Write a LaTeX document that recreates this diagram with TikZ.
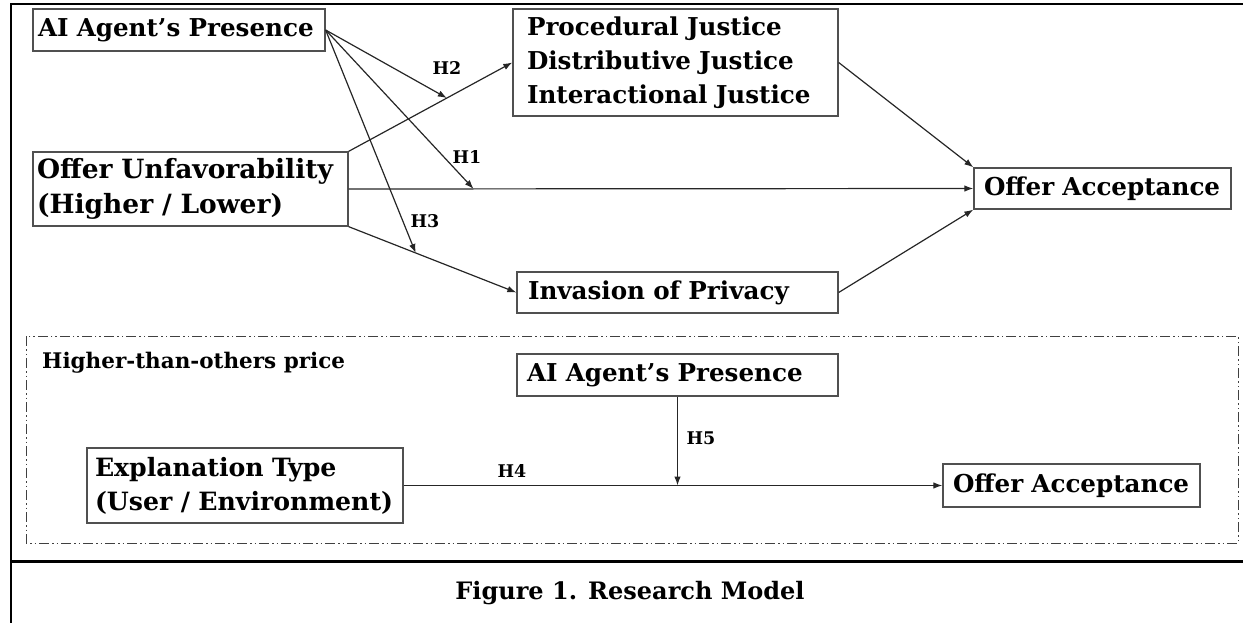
\documentclass[tikz,border=0pt]{standalone}
\usepackage{fontspec}
\setmainfont{DejaVu Serif}
\usetikzlibrary{arrows.meta,calc}

\definecolor{boxgray}{HTML}{505050}
\definecolor{linegray}{HTML}{262626}

\tikzset{
  box/.style={draw=boxgray, line width=1.3pt, align=left, inner ysep=0pt,
    font=\bfseries\fontsize{24.6}{34}\selectfont,
    execute at begin node={\hyphenpenalty=10000\exhyphenpenalty=10000\relax}},
  bigtext/.style={font=\bfseries\fontsize{26.5}{35}\selectfont},
  conn/.style={draw=linegray, line width=1.2pt, -{Latex[length=9pt,width=6.5pt]}},
  hlabel/.style={font=\bfseries\fontsize{17.5}{20}\selectfont, inner sep=0pt},
  frameline/.style={line width=2.8pt, black},
  grouping/.style={draw=black!75, line width=1pt,
    dash pattern=on 10pt off 3pt on 1.5pt off 3pt on 1.5pt off 3pt},
}

\begin{document}
\begin{tikzpicture}[x=1pt, y=-1pt]
\useasboundingbox (0,0) rectangle (1243,623);

% figure frame and caption separator
\coordinate (fTL) at (11,4);
\coordinate (fTR) at (1243,4);
\coordinate (fBL) at (11,623);
\coordinate (dL) at (11,561.5);
\coordinate (dR) at (1243,561.5);
\draw[frameline] (fTR) -- (fTL) -- (fBL);
\draw[frameline] (dL) -- (dR);

% ---------- main model ----------
\node[box, inner xsep=5pt, text width=282pt, minimum height=42pt] (aiTop) at (179,30)
  {AI~Agent’s~Presence};
\node[box, inner xsep=14pt, text width=297pt, minimum height=107pt] (just) at (675.5,62.5)
  {Procedural~Justice\\Distributive~Justice\\Interactional~Justice};
\node[box, bigtext, inner xsep=4pt, text width=307pt, minimum height=74pt] (unfav) at (190.5,189)
  {Offer~Unfavorability\\(Higher~/~Lower)};
\node[box, inner xsep=10pt, text width=237pt, minimum height=41pt] (offerTop) at (1102.5,188.5)
  {Offer~Acceptance};
\node[box, inner xsep=11pt, text width=299pt, minimum height=41pt] (priv) at (677.5,292.5)
  {Invasion~of~Privacy};

\draw[conn] (unfav.north east) -- (just.west);
\draw[conn] (unfav.east) -- (offerTop.west);
\draw[conn] (unfav.south east) -- (priv.west);
\draw[conn] (just.east) -- (offerTop.north west);
\draw[conn] (priv.east) -- (offerTop.south west);

% moderation targets on the paths
\coordinate (m2) at ($(unfav.north east)!0.6!(just.west)$);
\coordinate (m1) at ($(unfav.east)!0.2!(offerTop.west)$);
\coordinate (m3) at ($(unfav.south east)!0.4!(priv.west)$);
\draw[conn] (aiTop.east) -- (m2);
\draw[conn] (aiTop.east) -- (m1);
\draw[conn] (aiTop.east) -- (m3);

\node[hlabel] (h2) at (447,68) {H2};
\node[hlabel] (h1) at (467,157) {H1};
\node[hlabel] (h3) at (425,221) {H3};

% ---------- sub-model for higher-than-others price ----------
\coordinate (gTL) at (26,336);
\coordinate (gBR) at (1238,543);
\draw[grouping] (gTL) rectangle (gBR);
\node[anchor=west, inner sep=0pt, font=\bfseries\fontsize{21.5}{24}\selectfont] (gtitle) at (42,363)
  {Higher-than-others~price};

\node[box, inner xsep=10pt, text width=301pt, minimum height=42pt] (aiBot) at (677.5,375)
  {AI~Agent’s~Presence};
\node[box, font=\bfseries\fontsize{25.2}{34}\selectfont, inner xsep=8pt, text width=300pt,
  minimum height=75pt] (expl) at (245,485.5)
  {Explanation~Type\\(User~/~Environment)};
\node[box, inner xsep=10pt, text width=237pt, minimum height=43pt] (offerBot) at (1071.5,485.5)
  {Offer~Acceptance};

\draw[conn] (expl.east) -- (offerBot.west);
\coordinate (m5) at (aiBot.south |- expl.east);
\draw[conn] (aiBot.south) -- (m5);

\node[hlabel] (h4) at (512,471) {H4};
\node[hlabel] (h5) at (701,438) {H5};

% ---------- caption ----------
\node[font=\bfseries\fontsize{24}{28}\selectfont, inner sep=0pt] (caption) at (630,593)
  {Figure 1. Research Model};
\end{tikzpicture}
\end{document}
